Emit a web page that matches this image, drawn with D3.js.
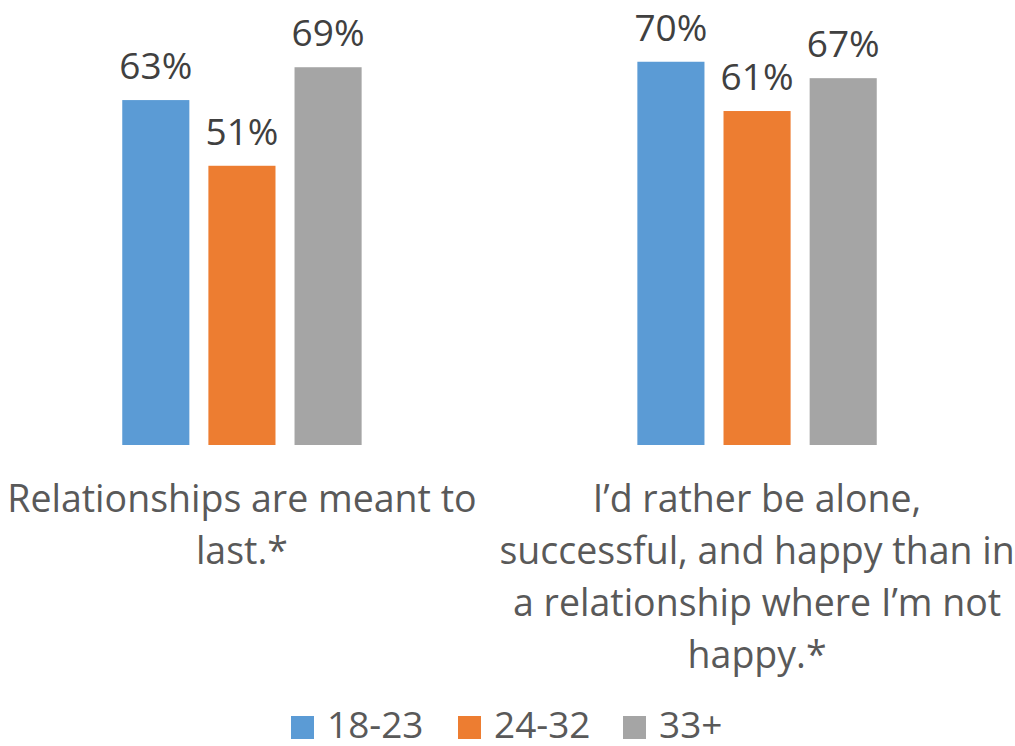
<!DOCTYPE html>
<html>
<head>
  <meta charset="UTF-8">
  <title>Relationships by age</title>
  <style>
    body { margin: 0; background: #fff; }
    svg { display: block; font-family: "Open Sans", sans-serif; }
  </style>
</head>
<body>
<svg></svg>
<script src="https://d3js.org/d3.v7.min.js"></script>
<script>
    let width = 1015, height = 746;

    // data
    var categories = ["Relationships are meant to last.*",
                      "I’d rather be alone, successful, and happy than in a relationship where I’m not happy.*"];
    var categoryLines = [
        ["Relationships are meant to", "last.*"],
        ["I’d rather be alone,", "successful, and happy than in", "a relationship where I’m not", "happy.*"]
    ];
    var series = ["18-23", "24-32", "33+"];
    var values = [
        [0.63, 0.51, 0.69],
        [0.70, 0.61, 0.67]
    ];
    var colors = ["#5B9BD5", "#ED7D31", "#A5A5A5"];

    let svg = d3.select("svg")
        .attr("width", width)
        .attr("height", height);

    var x0 = d3.scaleBand()
        .domain(categories)
        .range([-16, 1015])
        .paddingInner(0.4985)
        .paddingOuter(0.25);

    var x1 = d3.scaleBand()
        .domain(series)
        .range([0, x0.bandwidth()])
        .paddingInner(0.221)
        .paddingOuter(0.11);

    var y = d3.scaleLinear()
        .domain([0, 0.8])
        .range([445, 7]);

    var color = d3.scaleOrdinal().domain(series).range(colors);

    var groups = svg.selectAll("g.group")
        .data(categories)
        .enter().append("g")
        .attr("class", "group")
        .attr("transform", d => "translate(" + x0(d) + ",0)");

    groups.selectAll("rect")
        .data((d, i) => series.map((s, j) => ({s: s, v: values[i][j]})))
        .enter().append("rect")
        .attr("x", d => x1(d.s))
        .attr("y", d => y(d.v))
        .attr("width", x1.bandwidth())
        .attr("height", d => y(0) - y(d.v))
        .attr("fill", d => color(d.s));

    // value labels
    groups.selectAll("text.val")
        .data((d, i) => series.map((s, j) => ({s: s, v: values[i][j]})))
        .enter().append("text")
        .attr("class", "val")
        .attr("x", d => x1(d.s) + x1.bandwidth() / 2)
        .attr("y", d => y(d.v) - 21)
        .attr("text-anchor", "middle")
        .attr("fill", "#404040")
        .style("font-size", "37px")
        .text(d => Math.round(d.v * 100) + "%");

    // category labels
    groups.each(function(d, i) {
        var t = d3.select(this).append("text")
            .attr("text-anchor", "middle")
            .attr("fill", "#595959")
            .style("font-size", "37.5px");
        t.selectAll("tspan")
            .data(categoryLines[i])
            .enter().append("tspan")
            .attr("x", x0.bandwidth() / 2)
            .attr("y", (l, k) => 512 + k * 52)
            .text(l => l);
    });

    // legend
    var legendX = [291, 458, 623];
    var legend = svg.selectAll("g.legend")
        .data(series)
        .enter().append("g")
        .attr("class", "legend")
        .attr("transform", (d, i) => "translate(" + legendX[i] + ",716)");

    legend.append("rect")
        .attr("width", 23)
        .attr("height", 23)
        .attr("fill", d => color(d));

    legend.append("text")
        .attr("x", 36)
        .attr("y", 22)
        .attr("fill", "#595959")
        .style("font-size", "37px")
        .text(d => d);
</script>
</body>
</html>
